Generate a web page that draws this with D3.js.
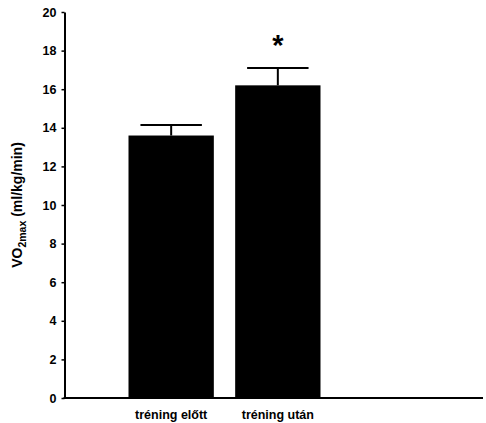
<!DOCTYPE html>
<html lang="hu">

<head>
    <meta charset="utf-8">
    <title>VO2max</title>
    <script type="text/javascript" src="https://d3js.org/d3.v7.min.js"></script>
    <style>
        body {
            margin: 0;
            background: white;
        }

        text {
            font-family: "Liberation Sans", Arial, sans-serif;
            font-weight: bold;
        }

        g.tick text {
            font-size: 12.5px;
        }
    </style>
</head>

<body>
    <div id="bar-chart"></div>
    <script type="text/javascript">
        // chart data
        const categories = ["tréning előtt", "tréning után"];
        const means = [13.6, 16.2];
        const errors = [0.55, 0.9];
        const significant = [false, true];
        const yTicks = [0, 2, 4, 6, 8, 10, 12, 14, 16, 18, 20];

        const width = 486;
        const height = 423;
        const margin = ({ left: 64.5, right: 3, top: 12, bottom: 25 })

        const svg = d3.select("#bar-chart")
            .append("svg")
            .attr("width", width)
            .attr("height", height);

        // y-scale
        const y = d3.scaleLinear()
            .domain([0, 20])
            .range([height - margin.bottom, margin.top]);

        // x-scale: two bars, then empty room to the right
        const x = d3.scaleBand()
            .domain(categories)
            .range([128.5, 320.5])
            .paddingInner(0.2);

        const data = categories.map((c, i) => ({ name: c, mean: means[i], err: errors[i], sig: significant[i] }));

        // bars
        svg.append("g")
            .attr("class", "bars")
            .selectAll("rect")
            .data(data)
            .enter()
            .append("rect")
            .attr("x", d => x(d.name))
            .attr("y", d => y(d.mean))
            .attr("width", x.bandwidth())
            .attr("height", d => y(0) - y(d.mean))
            .attr("fill", "black");

        // error bars (upper only)
        const capHalf = x.bandwidth() * 0.36;
        const err = svg.append("g").attr("class", "errors")
            .selectAll("g")
            .data(data)
            .enter()
            .append("g");
        err.append("line")
            .attr("x1", d => x(d.name) + x.bandwidth() / 2)
            .attr("x2", d => x(d.name) + x.bandwidth() / 2)
            .attr("y1", d => y(d.mean))
            .attr("y2", d => y(d.mean + d.err))
            .attr("stroke", "black")
            .attr("stroke-width", 2);
        err.append("line")
            .attr("x1", d => x(d.name) + x.bandwidth() / 2 - capHalf)
            .attr("x2", d => x(d.name) + x.bandwidth() / 2 + capHalf)
            .attr("y1", d => y(d.mean + d.err))
            .attr("y2", d => y(d.mean + d.err))
            .attr("stroke", "black")
            .attr("stroke-width", 2);

        // significance star
        svg.append("g")
            .selectAll("text")
            .data(data.filter(d => d.sig))
            .enter()
            .append("text")
            .attr("x", d => x(d.name) + x.bandwidth() / 2)
            .attr("y", d => y(d.mean + d.err) - 13)
            .attr("text-anchor", "middle")
            .style("font-size", "29px")
            .text("*");

        // y-axis
        const yAxis = d3.axisLeft(y)
            .tickValues(yTicks)
            .tickSize(3)
            .tickPadding(5)
            .tickSizeOuter(0);

        svg.append("g")
            .attr("class", "y axis")
            .attr("transform", `translate(${margin.left}, 0)`)
            .call(yAxis)
            .call(g => g.select(".domain").attr("stroke-width", 2))
            .call(g => g.selectAll(".tick line").attr("stroke-width", 1.5))
            .call(g => g.selectAll(".tick text").attr("fill", "black"));

        // x-axis baseline
        svg.append("line")
            .attr("x1", margin.left - 1)
            .attr("x2", width - margin.right)
            .attr("y1", y(0))
            .attr("y2", y(0))
            .attr("stroke", "black")
            .attr("stroke-width", 2);

        // category labels
        svg.append("g")
            .selectAll("text")
            .data(categories)
            .enter()
            .append("text")
            .attr("x", d => x(d) + x.bandwidth() / 2)
            .attr("y", y(0) + 21)
            .attr("text-anchor", "middle")
            .style("font-size", "12.5px")
            .text(d => d);

        // y label with subscript
        const yLabel = svg.append("text")
            .attr("transform", `translate(22, ${y(10)}) rotate(-90)`)
            .attr("text-anchor", "middle")
            .style("font-size", "14px");
        yLabel.append("tspan").text("VO");
        yLabel.append("tspan").attr("dy", 3.5).style("font-size", "10.5px").text("2max");
        yLabel.append("tspan").attr("dy", -3.5).text(" (ml/kg/min)");
    </script>
</body>

</html>
